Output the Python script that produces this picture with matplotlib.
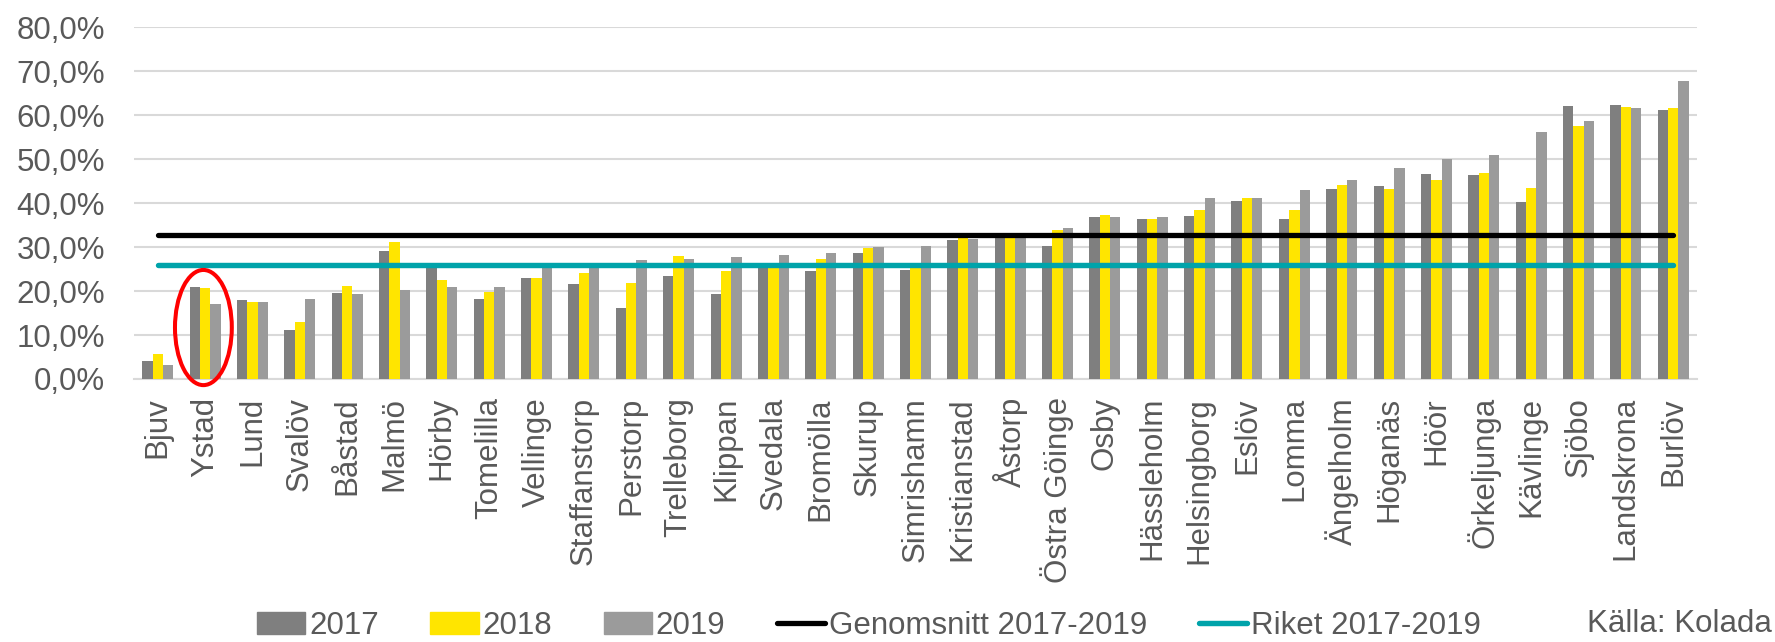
import matplotlib.pyplot as plt
import numpy as np
from matplotlib.patches import Ellipse, Patch
from matplotlib.lines import Line2D
from matplotlib.ticker import FuncFormatter

plt.rcParams['font.family'] = ['Liberation Sans', 'DejaVu Sans']

kommuner = ["Bjuv", "Ystad", "Lund", "Svalöv", "Båstad", "Malmö", "Hörby", "Tomelilla",
            "Vellinge", "Staffanstorp", "Perstorp", "Trelleborg", "Klippan", "Svedala",
            "Bromölla", "Skurup", "Simrishamn", "Kristianstad", "Åstorp", "Östra Göinge",
            "Osby", "Hässleholm", "Helsingborg", "Eslöv", "Lomma", "Ängelholm", "Höganäs",
            "Höör", "Örkeljunga", "Kävlinge", "Sjöbo", "Landskrona", "Burlöv"]

v2017 = [4.0, 21.0, 18.0, 11.2, 19.6, 29.1, 25.8, 18.1, 23.0, 21.6, 16.1, 23.5, 19.3, 25.6,
         24.6, 28.6, 24.8, 31.5, 33.2, 30.2, 36.8, 36.5, 37.1, 40.5, 36.5, 43.3, 43.9, 46.6,
         46.5, 40.3, 62.0, 62.4, 61.1]
v2018 = [5.6, 20.7, 17.5, 13.0, 21.2, 31.2, 22.6, 19.7, 23.0, 24.1, 21.8, 28.0, 24.6, 25.3,
         27.3, 29.9, 25.2, 32.3, 32.8, 34.0, 37.2, 36.4, 38.4, 41.1, 38.5, 44.1, 43.3, 45.3,
         46.9, 43.4, 57.5, 61.9, 61.6]
v2019 = [3.1, 17.0, 17.5, 18.2, 19.4, 20.2, 21.0, 21.0, 25.5, 25.6, 27.0, 27.4, 27.8, 28.3,
         28.6, 30.0, 30.2, 31.8, 32.6, 34.4, 36.8, 36.8, 41.1, 41.2, 43.1, 45.3, 48.1, 50.0,
         50.9, 56.1, 58.6, 61.6, 67.7]

genomsnitt = 32.8
riket = 25.9

text_color = "#595959"
fs = 22.5

fig = plt.figure(figsize=(17.75, 6.42), dpi=100)
ax = fig.add_axes([0.0755, 0.4097, 0.8805, 0.5478])

x = np.arange(len(kommuner))
w = 0.218
ax.bar(x - w, v2017, w, color="#7F7F7F", zorder=2)
ax.bar(x, v2018, w, color="#FFE500", zorder=2)
ax.bar(x + w, v2019, w, color="#9B9B9B", zorder=2)

ax.plot([x[0], x[-1]], [genomsnitt, genomsnitt], color="black", lw=3.8,
        solid_capstyle="round", zorder=3)
ax.plot([x[0], x[-1]], [riket, riket], color="#00A3AA", lw=3.9,
        solid_capstyle="round", zorder=3)

# Ring around Ystad
ax.add_patch(Ellipse((0.965, 11.7), 1.2, 26.2, fill=False, edgecolor="#FF0000",
                     lw=2.9, clip_on=False, zorder=4))

ax.set_xlim(-0.5, len(kommuner) - 0.5)
ax.set_ylim(0, 80)
ax.set_yticks(np.arange(0, 81, 10))
ax.yaxis.set_major_formatter(FuncFormatter(lambda v, p: f"{v:.1f}%".replace(".", ",")))
ax.set_xticks(x)
ax.set_xticklabels(kommuner, rotation=90)
ax.tick_params(axis="y", length=0, pad=21, labelsize=fs, labelcolor=text_color)
ax.tick_params(axis="x", length=0, pad=13, labelsize=fs, labelcolor=text_color)

ax.grid(axis="y", color="#D9D9D9", lw=1.5, zorder=0)
for s in ["top", "right", "left"]:
    ax.spines[s].set_visible(False)
ax.spines["bottom"].set_color("#D9D9D9")
ax.spines["bottom"].set_linewidth(1.5)
ax.spines["bottom"].set_zorder(1)

handles = [
    Patch(color="#7F7F7F", label="2017"),
    Patch(color="#FFE500", label="2018"),
    Patch(color="#9B9B9B", label="2019"),
    Line2D([], [], color="black", lw=3.8, solid_capstyle="round", label="Genomsnitt 2017-2019"),
    Line2D([], [], color="#00A3AA", lw=3.9, solid_capstyle="round", label="Riket 2017-2019"),
]
leg = fig.legend(handles=handles, loc="center", bbox_to_anchor=(0.4895, 0.025), ncol=5,
                 frameon=False, fontsize=fs, handlelength=1.55, handletextpad=0.12,
                 columnspacing=1.65, borderpad=0, borderaxespad=0)
for t in leg.get_texts():
    t.set_color(text_color)

fig.text(0.998, 0.028, "Källa: Kolada", ha="right", va="center", fontsize=fs, color=text_color)

fig.savefig("out.png", dpi=100)
